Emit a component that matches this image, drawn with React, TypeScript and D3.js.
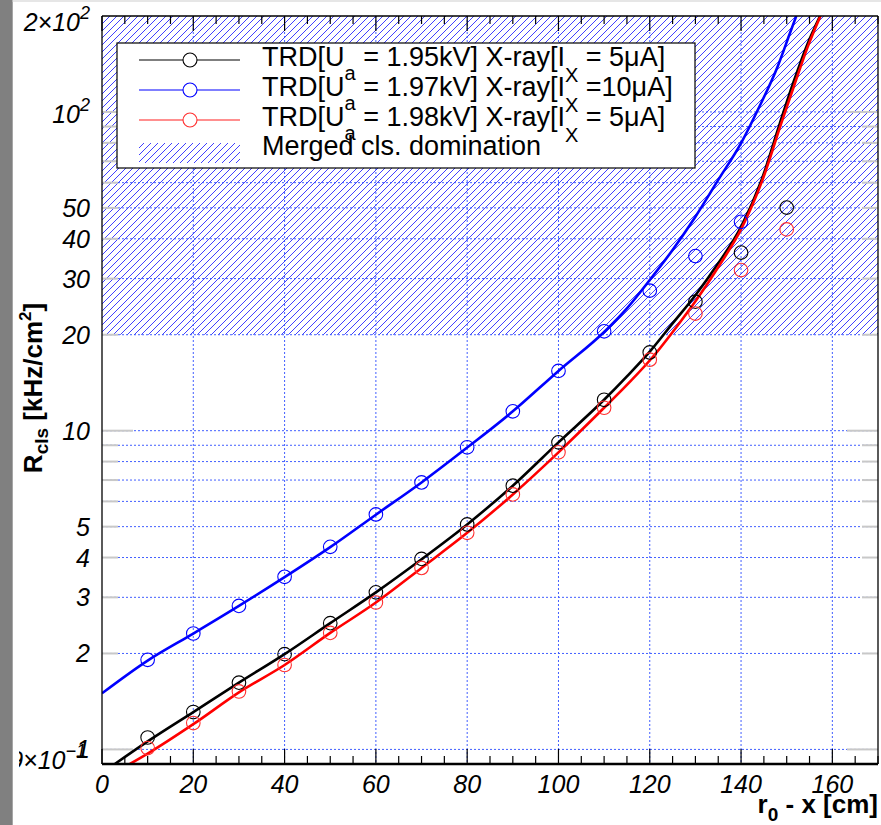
import React from "react";
import * as d3 from "d3";

// Measured points: cluster rate vs. distance r0 - x
const distances = [10, 20, 30, 40, 50, 60, 70, 80, 90, 100, 110, 120, 130, 140, 150];
const rateBlack = [1.09, 1.31, 1.62, 1.99, 2.49, 3.11, 3.96, 5.08, 6.72, 9.19, 12.5, 17.6, 25.4, 36.2, 50.1];
const rateRed = [1.01, 1.21, 1.52, 1.84, 2.32, 2.89, 3.71, 4.78, 6.31, 8.55, 11.8, 16.7, 23.3, 31.9, 42.8];
const distancesBlue = [10, 20, 30, 40, 50, 60, 70, 80, 90, 100, 110, 120, 130, 140];
const rateBlue = [1.91, 2.31, 2.82, 3.48, 4.32, 5.46, 6.88, 8.87, 11.5, 15.4, 20.5, 27.5, 35.3, 45.2];

// Fitted curves, sampled
const fitBlackX = [2.8, 10, 20, 30, 40, 50, 60, 70, 80, 90, 100, 110, 115, 120, 125, 130, 135, 140, 144.5, 148.5, 151.4, 154.3, 157.3];
const fitBlackY = [0.9, 1.06, 1.31, 1.62, 1.99, 2.49, 3.11, 3.95, 5.08, 6.72, 9.19, 12.5, 14.8, 17.7, 21.7, 26.6, 33.5, 43.6, 61.2, 92.1, 123, 160, 200];
const fitRedX = [6.1, 10, 20, 30, 40, 50, 60, 70, 80, 90, 100, 110, 116, 120.7, 125.9, 130.2, 135.3, 140.1, 144.7, 148.8, 151.8, 154.6, 157.4];
const fitRedY = [0.9, 0.97, 1.2, 1.51, 1.84, 2.32, 2.89, 3.71, 4.78, 6.31, 8.55, 11.8, 14.4, 17.06, 21.2, 25.7, 33.1, 43.1, 61.2, 92.1, 123, 160, 200];
const fitBlueX = [0, 10, 20, 30, 40, 50, 60, 70, 80, 90, 100, 110, 115, 120, 125, 130, 135, 140, 144, 148, 150.7, 152.1];
const fitBlueY = [1.5, 1.9, 2.31, 2.82, 3.47, 4.31, 5.45, 6.88, 8.85, 11.5, 15.4, 20.4, 24.2, 29.7, 36.9, 46.9, 61.2, 79.8, 103.8, 138.7, 176.5, 200];

// Region where merged clusters dominate
const mergedLow = 20;
const mergedHigh = 200;

const xTicks = [0, 20, 40, 60, 80, 100, 120, 140, 160];
const xMinorTicks = d3.range(0, 171, 5);
const yGridValues = [1, 2, 3, 4, 5, 6, 7, 8, 9, 10, 20, 30, 40, 50, 60, 70, 80, 90, 100];
const yDecades = [1, 10, 100];
const yPlainLabels = [1, 2, 3, 4, 5, 10, 20, 30, 40, 50];

const legendLabels = [
  { u: "1.95", i: " = 5\u03bcA]", color: "#000000", marker: "#000000" },
  { u: "1.97", i: " =10\u03bcA]", color: "#0000ff", marker: "#0000ff" },
  { u: "1.98", i: " = 5\u03bcA]", color: "#ff2020", marker: "#ff3030" },
];

const FONT = "'Liberation Sans', Arial, Helvetica, sans-serif";

export default function App() {
  const x = d3.scaleLinear().domain([0, 170]).range([102, 878]);
  const y = d3.scaleLog().domain([0.9, 200]).range([764, 16]);
  const [x0, x1] = x.range();
  const [yB, yT] = y.range();

  const line = d3
    .line<[number, number]>()
    .x((d) => x(d[0]))
    .y((d) => y(d[1]))
    .curve(d3.curveMonotoneX);

  const fits = [
    { xs: fitBlackX, ys: fitBlackY, color: "#000000" },
    { xs: fitRedX, ys: fitRedY, color: "#ff0000" },
    { xs: fitBlueX, ys: fitBlueY, color: "#0000ff" },
  ];
  const series = [
    { xs: distances, ys: rateBlack, color: "#000000" },
    { xs: distances, ys: rateRed, color: "#ff3030" },
    { xs: distancesBlue, ys: rateBlue, color: "#0000ff" },
  ];

  const tickFont = { fontFamily: FONT, fontStyle: "italic", fontSize: 25 } as const;

  return (
    <svg
      width={881}
      height={825}
      style={{ position: "absolute", left: 0, top: 0, background: "#ffffff" }}
    >
      <defs>
        <pattern id="hatch" patternUnits="userSpaceOnUse" width={7} height={7}>
          <path d="M0,7 L7,0 M-1,1 L1,-1 M6,8 L8,6" stroke="#2a2aff" strokeWidth={0.9} />
        </pattern>
        <clipPath id="frame">
          <rect x={x0} y={yT} width={x1 - x0} height={yB - yT} />
        </clipPath>
        <clipPath id="leftcut">
          <rect x={19} y={0} width={881} height={825} />
        </clipPath>
      </defs>

      <rect x={0} y={0} width={881} height={825} fill="#ffffff" />

      {/* hatched merged-cluster band */}
      <rect
        x={x0}
        y={y(mergedHigh)}
        width={x1 - x0}
        height={y(mergedLow) - y(mergedHigh)}
        fill="url(#hatch)"
      />

      {/* grid */}
      <g stroke="#2244ff" strokeWidth={1} strokeDasharray="2 2" opacity={0.85}>
        {xTicks.slice(1).map((t) => (
          <line key={"gx" + t} x1={x(t)} x2={x(t)} y1={yT} y2={yB} />
        ))}
        {yGridValues.map((v) => (
          <line key={"gy" + v} x1={x0} x2={x1} y1={y(v)} y2={y(v)} />
        ))}
      </g>

      {/* y ticks, both sides */}
      <g stroke="#c8c8c8" strokeWidth={2}>
        {yGridValues.map((v) => {
          const len = yDecades.includes(v) ? 31 : 16;
          return (
            <g key={"ty" + v}>
              <line x1={x0} x2={x0 + len} y1={y(v)} y2={y(v)} />
              <line x1={x1} x2={x1 - len} y1={y(v)} y2={y(v)} />
            </g>
          );
        })}
      </g>

      {/* x ticks, top and bottom */}
      <g stroke="#000000" strokeWidth={1.2}>
        {xMinorTicks.map((t) => {
          const len = t % 20 === 0 ? 15 : 8;
          return (
            <g key={"tx" + t}>
              <line x1={x(t)} x2={x(t)} y1={yB} y2={yB - len} />
              <line x1={x(t)} x2={x(t)} y1={yT} y2={yT + len} />
            </g>
          );
        })}
      </g>

      {/* fitted curves */}
      <g clipPath="url(#frame)" fill="none">
        {fits.map((f, i) => (
          <path
            key={"fit" + i}
            d={line(f.xs.map((v, k) => [v, f.ys[k]] as [number, number])) || ""}
            stroke={f.color}
            strokeWidth={2.6}
          />
        ))}
      </g>

      {/* measured points */}
      <g clipPath="url(#frame)" fill="none" strokeWidth={1.1}>
        {series.map((s, i) =>
          s.xs.map((v, k) => (
            <circle key={"p" + i + "_" + k} cx={x(v)} cy={y(s.ys[k])} r={6.8} stroke={s.color} />
          ))
        )}
      </g>

      {/* frame */}
      <g fill="none" stroke="#000000">
        <line x1={x0} x2={x1} y1={yT} y2={yT} strokeWidth={1.5} />
        <line x1={x0} x2={x0} y1={yT} y2={yB} strokeWidth={1.3} />
        <line x1={x1} x2={x1} y1={yT} y2={yB} strokeWidth={1.3} />
        <line x1={x0} x2={x1} y1={yB} y2={yB} strokeWidth={2.4} />
      </g>

      {/* legend */}
      <g>
        <rect x={117} y={43} width={578} height={125} fill="#ffffff" stroke="#000000" strokeWidth={1.2} />
        {legendLabels.map((e, i) => {
          const cy = 60 + i * 30;
          return (
            <g key={"lg" + i}>
              <line x1={139} x2={240} y1={cy} y2={cy} stroke={e.color} strokeWidth={1.2} />
              <circle cx={190} cy={cy} r={7} fill="#ffffff" stroke={e.marker} strokeWidth={1.1} />
              <text x={262} y={cy + 6} fontFamily={FONT} fontSize={27} fill="#000000">
                TRD[U
                <tspan fontSize={20} dy={14}>a</tspan>
                <tspan dy={-14}>{` = ${e.u}kV] X-ray[I`}</tspan>
                <tspan fontSize={20} dy={16}>X</tspan>
                <tspan dy={-16}>{e.i}</tspan>
              </text>
            </g>
          );
        })}
        <rect x={139} y={143} width={101} height={20} fill="url(#hatch)" />
        <text x={262} y={155} fontFamily={FONT} fontSize={27} fill="#000000">
          Merged cls. domination
        </text>
      </g>

      {/* y tick labels */}
      <g {...tickFont} textAnchor="end" fill="#000000">
        {yPlainLabels.map((v) => (
          <text key={"ly" + v} x={90} y={y(v) + 9}>
            {v}
          </text>
        ))}
        <text x={90} y={y(100) + 11}>
          10<tspan fontSize={18} dy={-12}>2</tspan>
        </text>
        <text x={90} y={y(200) + 15}>
          2×10<tspan fontSize={18} dy={-12}>2</tspan>
        </text>
        <g clipPath="url(#leftcut)">
          <text x={86} y={y(0.9) + 5}>
            9×10<tspan fontSize={18} dy={-12}>−1</tspan>
          </text>
        </g>
      </g>

      {/* x tick labels */}
      <g {...tickFont} textAnchor="middle" fill="#000000">
        {xTicks.map((t) => (
          <text key={"lx" + t} x={x(t)} y={793}>
            {t}
          </text>
        ))}
      </g>

      {/* axis titles */}
      <text x={878} y={813} fontFamily={FONT} fontWeight="bold" fontSize={26} textAnchor="end" fill="#000000">
        r<tspan fontSize={19} dy={8}>0</tspan>
        <tspan dy={-8}> - x [cm]</tspan>
      </text>
      <text
        transform="translate(42,388) rotate(-90)"
        fontFamily={FONT}
        fontWeight="bold"
        fontSize={26}
        textAnchor="middle"
        fill="#000000"
      >
        R<tspan fontSize={19} dy={6}>cls</tspan>
        <tspan dy={-6}> [kHz/cm</tspan>
        <tspan fontSize={17} dy={-11}>2</tspan>
        <tspan dy={11}>]</tspan>
      </text>

      {/* page edges */}
      <rect x={0} y={0} width={12.7} height={825} fill="#808080" />
      <rect x={12.7} y={0} width={870} height={2} fill="#e6e6e6" />
    </svg>
  );
}
